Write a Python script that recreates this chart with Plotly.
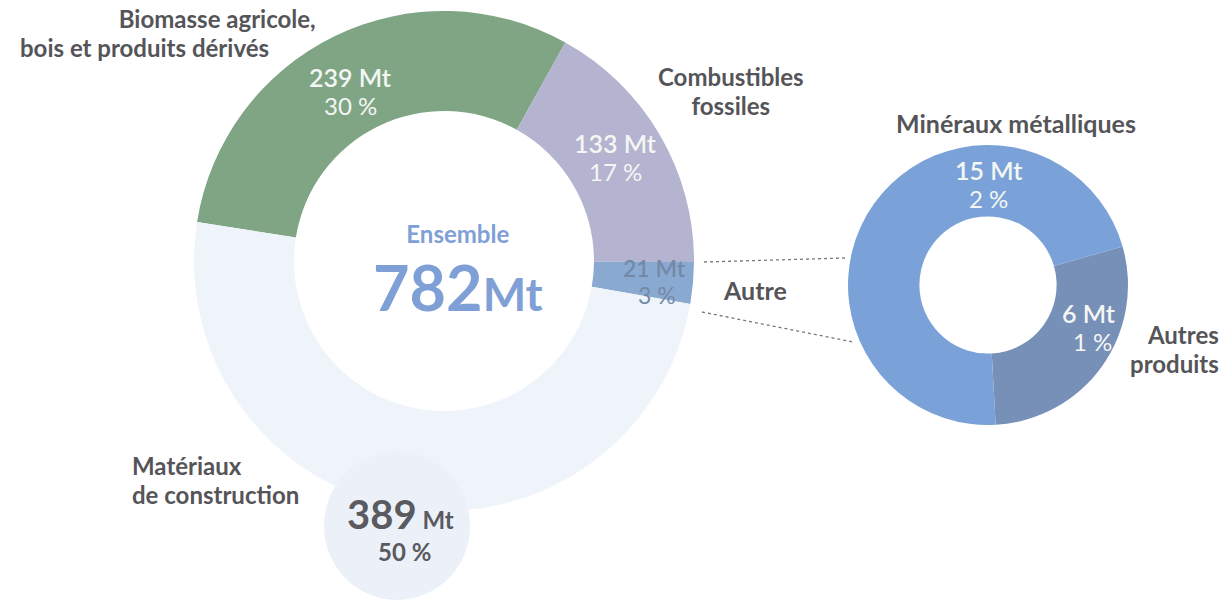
import plotly.graph_objects as go

W, H = 1227, 600

# Main donut data
main_labels = ["Biomasse agricole, bois et produits dérivés", "Combustibles fossiles", "Autre", "Matériaux de construction"]
main_values = [239, 133, 21, 389]
main_pct = [30, 17, 3, 50]
main_colors = ["#7fa585", "#b4b3d0", "#8aa9d1", "#eff4fa"]

# Detail donut ("Autre")
sub_labels = ["Autres produits", "Minéraux métalliques"]
sub_values = [6, 15]
sub_pct = [1, 2]
sub_colors = ["#7690b8", "#7ba2d8"]

total = 782

FONT = "Lato"
DARK = "#555559"
BLUE = "#7fa0d6"


def px(x):
    return x / W


def py(y):
    return 1 - y / H


fig = go.Figure()

fig.add_trace(go.Pie(
    labels=main_labels, values=main_values, sort=False, direction="clockwise",
    rotation=-81, hole=0.6, marker=dict(colors=main_colors, line=dict(width=0)),
    textinfo="none", hoverinfo="label+value",
    domain=dict(x=[px(194), px(694)], y=[py(511), py(11)]),
    showlegend=False,
))

fig.add_trace(go.Pie(
    labels=sub_labels, values=sub_values, sort=False, direction="clockwise",
    rotation=74, hole=0.49, marker=dict(colors=sub_colors, line=dict(width=0)),
    textinfo="none", hoverinfo="label+value",
    domain=dict(x=[px(848), px(1128)], y=[py(425), py(145)]),
    showlegend=False,
))

shapes = []
# small pale circle for the construction value
shapes.append(dict(type="circle", xref="paper", yref="paper",
                   x0=px(324), x1=px(470), y0=py(600), y1=py(452),
                   fillcolor="#ebf0f9", line=dict(width=0), layer="above"))
# dotted connector lines
shapes.append(dict(type="line", xref="paper", yref="paper",
                   x0=px(704), y0=py(262), x1=px(845), y1=py(258),
                   line=dict(color="#777", width=1.3, dash="dot"), layer="above"))
shapes.append(dict(type="line", xref="paper", yref="paper",
                   x0=px(702), y0=py(312), x1=px(853), y1=py(342),
                   line=dict(color="#777", width=1.3, dash="dot"), layer="above"))

ann = []


def text(x, y, s, size, color, weight="bold", xanchor="center", align="center"):
    ann.append(dict(x=px(x), y=py(y), xref="paper", yref="paper", text=s,
                    showarrow=False, xanchor=xanchor, yanchor="middle", align=align,
                    font=dict(family=FONT, size=size, color=color, weight=weight)))


def two_lines(x, y, l1, l2, xanchor, align, size=24, gap=29):
    # base font size sets the line spacing (1.3 x base)
    base = gap / 1.3
    s = (f"<span style='font-size:{size}px'>{l1}</span><br>"
         f"<span style='font-size:{size}px'>{l2}</span>")
    text(x, y, s, base, DARK, xanchor=xanchor, align=align)


# category labels
NB = "&nbsp;" * 8
two_lines(318, 33, "Biomasse agricole,", "bois et produits dérivés" + NB, "right", "right")
two_lines(731, 91, "Combustibles", "fossiles", "center", "center")
text(755, 290, main_labels[2], 25, DARK)
two_lines(130, 480, "Matériaux", "de construction", "left", "left")
text(1016, 123, sub_labels[1], 25, DARK)
two_lines(1221, 349, "Autres", "produits", "right", "right")

# slice values
WH = "#f4f6f4"
VS = 25
text(350, 77, f"{main_values[0]} Mt", VS, WH, weight=600)
text(350, 106, f"{main_pct[0]} %", VS - 1, WH, weight="normal")
text(615, 143, f"{main_values[1]} Mt", VS, WH, weight=600)
text(615, 172, f"{main_pct[1]} %", VS - 1, WH, weight="normal")
text(654, 268, f"{main_values[2]} Mt", 23, "#7289a8", weight=600)
text(657, 295, f"{main_pct[2]} %", 23, "#7289a8", weight="normal")
text(988, 170, f"{sub_values[1]} Mt", VS, WH, weight=600)
text(988, 198, f"{sub_pct[1]} %", VS - 1, WH, weight="normal")
text(1088, 313, f"{sub_values[0]} Mt", VS, WH, weight=600)
text(1092, 341, f"{sub_pct[0]} %", VS - 1, WH, weight="normal")

# centre total (single annotation: "Ensemble" over "782 Mt")
ann.append(dict(x=px(458), y=py(271), xref="paper", yref="paper",
                text=("<span style='font-size:24px'>Ensemble</span><br>"
                      f"<span style='font-size:63px'>{total}</span>"
                      "<span style='font-size:46px'>Mt</span>"),
                showarrow=False, xanchor="center", yanchor="middle",
                font=dict(family=FONT, size=52, color=BLUE, weight="bold")))

# construction value
ann.append(dict(x=px(400), y=py(514), xref="paper", yref="paper",
                text=(f"<span style='font-size:40px'>{main_values[3]}</span>"
                      "<span style='font-size:24px'> Mt</span>"),
                showarrow=False, xanchor="center", yanchor="middle",
                font=dict(family=FONT, size=40, color="#5a5a60", weight="bold")))
text(404, 551, f"{main_pct[3]} %", 24, "#5a5a60")

fig.update_layout(
    width=W, height=H, margin=dict(l=0, r=0, t=0, b=0),
    paper_bgcolor="white", plot_bgcolor="white",
    shapes=shapes, annotations=ann,
)

fig.write_html("out.html", config={"displayModeBar": False},
               post_script="document.body.style.margin='0';")
